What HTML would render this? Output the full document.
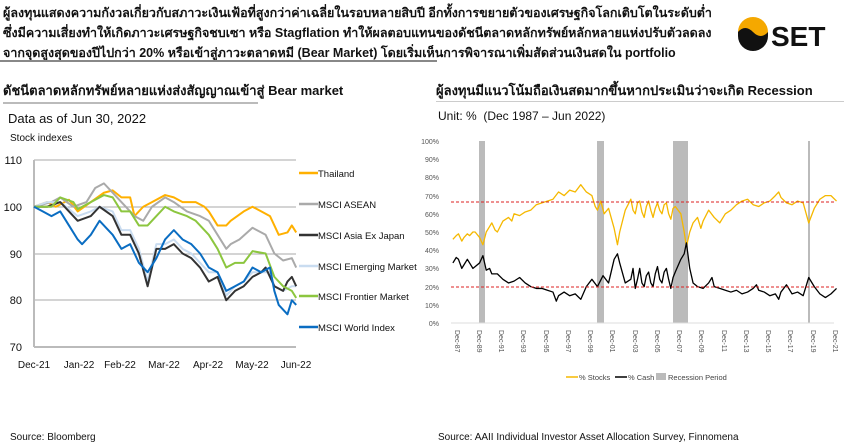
<!DOCTYPE html>
<html><head><meta charset="utf-8"><style>
body{margin:0;width:846px;height:447px;background:#fff;overflow:hidden;font-family:"Liberation Sans","Noto Sans CJK SC",sans-serif;}
.t{position:absolute;white-space:nowrap;color:#111}
</style></head><body>
<div class="t" style="left:3px;top:3px;font-size:12.5px;line-height:20px;font-weight:bold">ผู้ลงทุนแสดงความกังวลเกี่ยวกับสภาวะเงินเฟ้อที่สูงกว่าค่าเฉลี่ยในรอบหลายสิบปี อีกทั้งการขยายตัวของเศรษฐกิจโลกเติบโตในระดับต่ำ<br>ซึ่งมีความเสี่ยงทำให้เกิดภาวะเศรษฐกิจชบเซา หรือ Stagflation ทำให้ผลตอบแทนของดัชนีตลาดหลักทรัพย์หลักหลายแห่งปรับตัวลดลง<br>จากจุดสูงสุดของปีไปกว่า 20% หรือเข้าสู่ภาวะตลาดหมี (Bear Market) โดยเริ่มเห็นการพิจารณาเพิ่มสัดส่วนเงินสดใน portfolio</div>
<div style="position:absolute;left:0;top:60px;width:437px;height:2px;background:#888"></div>
<svg style="position:absolute;left:735px;top:14px" width="100" height="40"><circle cx="18" cy="18" r="15" fill="#f5a800"/><path d="M3 18 Q10 10 18 18 Q26 26 33 18 L33 22 A15 15 0 0 1 3 22Z" fill="#111"/><text x="36" y="32" font-family="Liberation Sans" font-weight="bold" font-size="28" fill="#111">SET</text></svg>
<div class="t" style="left:3px;top:80px;font-size:13px;font-weight:bold">ดัชนีตลาดหลักทรัพย์หลายแห่งส่งสัญญาณเข้าสู่ Bear market</div>
<div style="position:absolute;left:3px;top:102px;width:255px;height:2px;background:#bbb"></div>
<div class="t" style="left:268px;top:80px;font-size:13px;font-weight:bold;left:268px;display:none"></div>
<div class="t" style="left:436px;top:80px;font-size:13px;font-weight:bold">ผู้ลงทุนมีแนวโน้มถือเงินสดมากขึ้นหากประเมินว่าจะเกิด Recession</div>
<div style="position:absolute;left:436px;top:101px;width:408px;height:1px;background:#ccc"></div>
<div class="t" style="left:8px;top:111px;font-size:13px">Data as of Jun 30, 2022</div>
<div class="t" style="left:10px;top:133px;font-size:10px">Stock indexes</div>
<div class="t" style="left:438px;top:109px;font-size:12px">Unit: %&nbsp;&nbsp;(Dec 1987 – Jun 2022)</div>
<div class="t" style="left:10px;top:432px;font-size:10px">Source: Bloomberg</div>
<div class="t" style="left:438px;top:432px;font-size:10px">Source: AAII Individual Investor Asset Allocation Survey, Finnomena</div>

<svg style="position:absolute;left:0;top:0" width="846" height="447" font-family="Liberation Sans">
<g stroke="#aaa" stroke-width="1"><line x1="34" y1="160" x2="296" y2="160"/><line x1="34" y1="207" x2="296" y2="207"/><line x1="34" y1="254" x2="296" y2="254"/><line x1="34" y1="300" x2="296" y2="300"/></g>
<line x1="34" y1="160" x2="34" y2="347" stroke="#bbb" stroke-width="2"/>
<line x1="34" y1="347" x2="296" y2="347" stroke="#bbb" stroke-width="2"/>
<g font-size="11" fill="#111" text-anchor="end"><text x="22" y="164">110</text><text x="22" y="211">100</text><text x="22" y="258">90</text><text x="22" y="304">80</text><text x="22" y="351">70</text></g>
<g font-size="10" fill="#111" text-anchor="middle"><text x="34" y="368">Dec-21</text><text x="79" y="368">Jan-22</text><text x="120" y="368">Feb-22</text><text x="164" y="368">Mar-22</text><text x="208" y="368">Apr-22</text><text x="252" y="368">May-22</text><text x="296" y="368">Jun-22</text></g>
<g transform="translate(34,160) scale(43.7,-4.675) translate(0,-110)" fill="none" stroke-width="2" stroke-linejoin="round">
<polyline vector-effect="non-scaling-stroke" stroke="#ffb000" points="0,100 .3,101 .5,100 .8,101.5 1,99 1.3,101 1.6,103 1.8,103.5 2,102 2.2,102 2.3,98 2.5,100 2.7,101 3,102.5 3.2,102 3.4,101 3.7,101 3.9,100 4,99 4.2,96 4.4,96 4.5,97 4.8,99 5,100 5.2,99 5.4,98 5.5,96 5.6,94 5.8,94.5 5.9,96 6,94.5"/>
<polyline vector-effect="non-scaling-stroke" stroke="#aaa" points="0,100 .4,101 .6,102 .9,100 1.2,101 1.4,104 1.6,105 1.8,103 2,101 2.3,98 2.5,97 2.7,100 3,102 3.2,101 3.5,99 3.8,98 4,97 4.2,94 4.4,91 4.5,92 4.7,93 5,95.5 5.3,94 5.5,90 5.7,88.5 5.9,89 6,87"/>
<polyline vector-effect="non-scaling-stroke" stroke="#c9dcf0" points="0,100 .3,101 .6,101 1,98 1.3,99 1.5,100 1.8,99 2,95 2.2,95 2.4,91 2.6,84 2.8,92 3,92 3.2,93 3.4,91 3.6,90 3.8,88 4,86 4.2,86 4.4,81 4.6,83 4.8,84 5,86 5.2,86 5.4,86 5.5,83 5.7,82 5.9,83 6,83"/>
<polyline vector-effect="non-scaling-stroke" stroke="#333" points="0,100 .3,100 .6,101 1,97 1.3,98 1.5,100 1.8,98 2,94 2.2,94 2.4,90 2.6,83 2.8,91 3,91 3.2,92 3.4,90 3.6,89 3.8,87 4,84 4.2,85 4.4,80 4.6,82 4.8,83 5,85 5.2,86 5.3,87 5.5,83 5.7,82 5.8,84 5.9,85 6,83"/>
<polyline vector-effect="non-scaling-stroke" stroke="#8cc63f" points="0,100 .4,100 .6,102 .9,101 1,99.5 1.3,101 1.6,102.5 1.8,102 2,99 2.2,99 2.4,96 2.6,96 2.8,98 3,100 3.2,99 3.5,98 3.7,97 4,94 4.2,91 4.4,87 4.6,88 4.8,88 5,90.5 5.3,90 5.5,85 5.7,83 5.9,82 6,80.5"/>
<polyline vector-effect="non-scaling-stroke" stroke="#0a6dc2" points="0,100 .2,99 .4,98 .6,99 .8,96 1,93 1.1,92 1.3,94 1.5,97 1.8,94 2,91 2.2,92 2.4,88 2.6,86 2.8,89 3,93 3.2,95 3.4,93 3.6,92 3.8,90 4,87 4.2,86 4.4,82 4.6,83 4.8,84 5,87 5.2,86 5.4,87 5.5,82 5.6,79 5.8,77 5.9,80 6,79"/>
</g>
<g stroke-width="2.5"><line x1="299" y1="173" x2="318" y2="173" stroke="#ffb000"/><line x1="299" y1="204" x2="318" y2="204" stroke="#aaa"/><line x1="299" y1="235" x2="318" y2="235" stroke="#333"/><line x1="299" y1="266" x2="318" y2="266" stroke="#c9dcf0"/><line x1="299" y1="296" x2="318" y2="296" stroke="#8cc63f"/><line x1="299" y1="327" x2="318" y2="327" stroke="#0a6dc2"/></g>
<g font-size="9.5" fill="#111"><text x="318" y="177">Thailand</text><text x="318" y="208">MSCI ASEAN</text><text x="318" y="239">MSCI Asia Ex Japan</text><text x="318" y="270">MSCI Emerging Market</text><text x="318" y="300">MSCI Frontier Market</text><text x="318" y="331">MSCI World Index</text></g>

<!-- right chart -->
<g fill="#bbb"><rect x="479" y="141" width="6" height="182"/><rect x="597" y="141" width="7" height="182"/><rect x="673" y="141" width="15" height="182"/><rect x="808" y="141" width="2" height="182"/></g>
<line x1="451" y1="323" x2="834" y2="323" stroke="#ddd"/>
<g font-size="7" fill="#555" text-anchor="end"><text x="439" y="144">100%</text><text x="439" y="162">90%</text><text x="439" y="180">80%</text><text x="439" y="199">70%</text><text x="439" y="217">60%</text><text x="439" y="235">50%</text><text x="439" y="253">40%</text><text x="439" y="271">30%</text><text x="439" y="290">20%</text><text x="439" y="308">10%</text><text x="439" y="326">0%</text></g>
<g font-size="7" fill="#555">
<text transform="translate(455,330) rotate(90)">Dec-87</text><text transform="translate(477,330) rotate(90)">Dec-89</text><text transform="translate(499,330) rotate(90)">Dec-91</text><text transform="translate(521,330) rotate(90)">Dec-93</text><text transform="translate(544,330) rotate(90)">Dec-95</text><text transform="translate(566,330) rotate(90)">Dec-97</text><text transform="translate(588,330) rotate(90)">Dec-99</text><text transform="translate(610,330) rotate(90)">Dec-01</text><text transform="translate(633,330) rotate(90)">Dec-03</text><text transform="translate(655,330) rotate(90)">Dec-05</text><text transform="translate(677,330) rotate(90)">Dec-07</text><text transform="translate(699,330) rotate(90)">Dec-09</text><text transform="translate(722,330) rotate(90)">Dec-11</text><text transform="translate(744,330) rotate(90)">Dec-13</text><text transform="translate(766,330) rotate(90)">Dec-15</text><text transform="translate(788,330) rotate(90)">Dec-17</text><text transform="translate(811,330) rotate(90)">Dec-19</text><text transform="translate(833,330) rotate(90)">Dec-21</text></g>
<g transform="translate(452,323) scale(11.12,-1.82) translate(-87.92,0)" fill="none" stroke-width="1.3" stroke-linejoin="round">
<polyline vector-effect="non-scaling-stroke" stroke="#f5b800" points="88,46 88.3,48 88.5,49 88.8,45 89,47 89.3,49 89.5,48 89.8,50 90,50 90.4,47 90.7,43 91,50 91.3,53 91.5,55 91.8,51 92,50 92.5,56 93,58 93.3,56 93.5,60 94,59 94.5,61 95,62 95.5,65 96,66 96.5,67 97,68 97.5,72 98,70 98.5,73 99,72 99.5,76 100,72 100.5,70 100.8,64 101,62 101.3,67 101.6,60 102,63 102.5,52 102.8,43 103,50 103.5,62 104,68 104.2,62 104.4,60 104.6,66 104.8,67 105,61 105.2,58 105.4,64 105.6,67 105.8,62 106,58 106.2,63 106.4,66 106.6,62 106.8,60 107,65 107.2,66 107.4,60 107.6,57 107.8,63 108,64 108.5,60 108.8,50 109,42 109.3,50 109.6,55 110,58 110.3,52 110.5,56 111,62 111.5,58 112,55 112.5,60 113,62 113.5,65 114,67 114.5,68 115,65 115.5,64 116,66 116.5,67 117,70 117.3,72 117.5,69 118,66 118.5,65 119,67 119.5,66 120,55 120.5,63 121,68 121.5,70 122,70 122.5,67"/>
<polyline vector-effect="non-scaling-stroke" stroke="#000" points="88,33 88.3,36 88.5,35 88.8,30 89,32 89.3,35 89.5,33 89.8,30 90,31 90.4,33 90.7,37 91,29 91.3,30 91.5,27 92,27 92.5,24 93,22 93.5,23 94,25 94.5,22 95,20 95.5,19 96,19 96.5,18 97,17 97.3,12 97.5,15 98,17 98.5,15 99,16 99.5,13 100,20 100.5,24 101,20 101.5,26 102,22 102.5,35 102.8,38 103,33 103.5,22 104,24 104.2,30 104.4,19 104.6,24 104.8,30 105,22 105.2,20 105.4,26 105.6,28 105.8,22 106,20 106.2,27 106.4,31 106.6,24 106.8,22 107,28 107.2,30 107.4,24 107.6,19 107.8,25 108,28 108.5,35 108.8,38 109,44 109.3,30 109.6,22 110,20 110.5,19 111,22 111.3,25 111.5,20 112,19 112.5,18 113,17 113.5,18 114,16 114.5,17 115,19 115.3,21 115.5,18 116,17 116.5,15 117,16 117.3,13 117.5,17 118,21 118.5,16 119,17 119.5,15 120,25 120.5,20 121,16 121.5,14 122,16 122.5,19"/>
</g>
<line x1="451" y1="202" x2="834" y2="202" stroke="#d22" stroke-width="1" stroke-dasharray="3,2"/>
<line x1="451" y1="287" x2="834" y2="287" stroke="#d22" stroke-width="1" stroke-dasharray="3,2"/>
<g font-size="7.5" fill="#444"><line x1="566" y1="377" x2="578" y2="377" stroke="#f5b800" stroke-width="1.5"/><text x="579" y="380">% Stocks</text><line x1="615" y1="377" x2="627" y2="377" stroke="#000" stroke-width="1.5"/><text x="628" y="380">% Cash</text><rect x="656" y="373" width="10" height="7" fill="#bbb"/><text x="668" y="380">Recession Period</text></g>
</svg>
</body></html>
